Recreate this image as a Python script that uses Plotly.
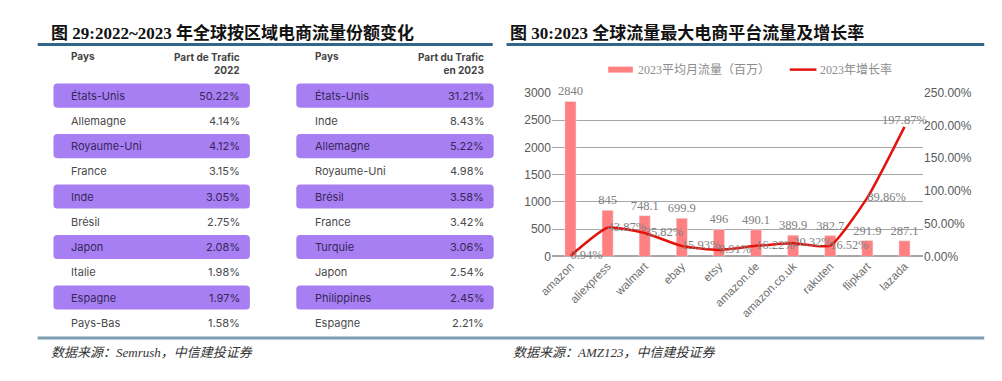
import plotly.graph_objects as go

# ---------------- data ----------------
countries_2022 = ["États-Unis", "Allemagne", "Royaume-Uni", "France", "Inde",
                  "Brésil", "Japon", "Italie", "Espagne", "Pays-Bas"]
share_2022 = ["50.22%", "4.14%", "4.12%", "3.15%", "3.05%",
              "2.75%", "2.08%", "1.98%", "1.97%", "1.58%"]
countries_2023 = ["États-Unis", "Inde", "Allemagne", "Royaume-Uni", "Brésil",
                  "France", "Turquie", "Japon", "Philippines", "Espagne"]
share_2023 = ["31.21%", "8.43%", "5.22%", "4.98%", "3.58%",
              "3.42%", "3.06%", "2.54%", "2.45%", "2.21%"]

platforms = ["amazon", "aliexpress", "walmart", "ebay", "etsy", "amazon.de",
             "amazon.co.uk", "rakuten", "flipkart", "lazada"]
traffic = [2840, 845, 748.1, 699.9, 496, 490.1, 389.9, 382.7, 291.9, 287.1]
growth = [0.0094, 0.4387, 0.3582, 0.1593, 0.0991, 0.1622, 0.2032, 0.1652, 0.8986, 1.9787]

y_ticks = [0, 500, 1000, 1500, 2000, 2500, 3000]
y2_ticks = [0, 0.5, 1.0, 1.5, 2.0, 2.5]

W, H = 1002, 381
def px(x): return x / W
def py(y): return 1 - y / H

BAR_COLOR = "#ff8080"
LINE_COLOR = "#e3120b"
PURPLE = "#a87ff2"

fig = go.Figure()

fig.add_trace(go.Bar(
    x=platforms, y=traffic, name="2023平均月流量（百万）",
    marker_color=BAR_COLOR, width=0.3,
    text=[f"{v:g}" for v in traffic], textposition="outside", cliponaxis=False,
    constraintext="none",
    textfont=dict(family="Liberation Serif, Noto Sans CJK SC", size=12.5, color="#808080"),
    yaxis="y", showlegend=False,
))
pos = ["middle right"] * (len(growth) - 1) + ["top center"]
fig.add_trace(go.Scatter(
    x=platforms, y=growth, name="2023年增长率", yaxis="y2",
    mode="lines+text", line=dict(color=LINE_COLOR, width=2.5, shape="spline", smoothing=0.5),
    text=[f"{g*100:.2f}%" for g in growth], textposition=pos, cliponaxis=False,
    textfont=dict(family="Liberation Serif, Noto Sans CJK SC", size=12.5, color="#808080"),
    showlegend=False,
))

fig.update_layout(
    width=W, height=H, margin=dict(l=0, r=0, t=0, b=0),
    paper_bgcolor="white", plot_bgcolor="white",
    xaxis=dict(domain=[px(546), px(922)], tickangle=-45, showgrid=False, showline=False,
               ticks="", tickfont=dict(family="Liberation Sans", size=11.5, color="#6e6e6e")),
    yaxis=dict(domain=[py(259), py(89)], range=[0, 3000], tickvals=y_ticks,
               showgrid=True, gridcolor="#a6a6a6", gridwidth=1, zeroline=True,
               zerolinecolor="#a6a6a6", ticks="",
               tickfont=dict(family="Liberation Sans", size=12, color="#595959")),
    yaxis2=dict(overlaying="y", side="right", range=[0, 2.5], tickvals=y2_ticks,
                tickformat=".2%", showgrid=False, zeroline=False, ticks="",
                tickfont=dict(family="Liberation Sans", size=12, color="#595959")),
)

shapes = []
annotations = []

# titles
title_font = dict(family="Liberation Serif, Noto Sans CJK SC", size=17, color="#111111")
annotations.append(dict(x=px(36), y=py(27), xref="paper", yref="paper", xanchor="left",
                        yanchor="middle", showarrow=False,
                        text="<b>图 29:2022~2023 年全球按区域电商流量份额变化</b>", font=title_font))
annotations.append(dict(x=px(502), y=py(27), xref="paper", yref="paper", xanchor="left",
                        yanchor="middle", showarrow=False,
                        text="<b>图 30:2023 全球流量最大电商平台流量及增长率</b>", font=title_font))
for x0, x1 in [(25, 486), (500, 984)]:
    shapes.append(dict(type="line", xref="paper", yref="paper", x0=px(x0), x1=px(x1),
                       y0=py(39), y1=py(39), line=dict(color="#31658a", width=3)))
shapes.append(dict(type="line", xref="paper", yref="paper", x0=px(25), x1=px(984),
                   y0=py(343.5), y1=py(343.5), line=dict(color="#7d9db3", width=3)))

src_font = dict(family="Liberation Serif, Noto Sans CJK SC", size=13, color="#333333")
annotations.append(dict(x=px(36), y=py(359), xref="paper", yref="paper", xanchor="left",
                        yanchor="middle", showarrow=False,
                        text="<i>数据来源：Semrush，中信建投证券</i>", font=src_font))
annotations.append(dict(x=px(505), y=py(359), xref="paper", yref="paper", xanchor="left",
                        yanchor="middle", showarrow=False,
                        text="<i>数据来源：AMZ123，中信建投证券</i>", font=src_font))

# legend (manual)
leg_font = dict(family="Liberation Serif, Noto Sans CJK SC", size=12, color="#8c8c8c")
shapes.append(dict(type="line", xref="paper", yref="paper", x0=px(603), x1=px(628),
                   y0=py(65), y1=py(65), line=dict(color=BAR_COLOR, width=6)))
annotations.append(dict(x=px(631), y=py(65), xref="paper", yref="paper", xanchor="left",
                        yanchor="middle", showarrow=False, text="2023平均月流量（百万）", font=leg_font))
shapes.append(dict(type="line", xref="paper", yref="paper", x0=px(787), x1=px(814),
                   y0=py(65), y1=py(65), line=dict(color=LINE_COLOR, width=2.5)))
annotations.append(dict(x=px(816), y=py(65), xref="paper", yref="paper", xanchor="left",
                        yanchor="middle", showarrow=False, text="2023年增长率", font=leg_font))

# tables
def rounded_rect(x0, x1, y0, y1, r=4):
    X0, X1 = px(x0), px(x1)
    Yt, Yb = py(y0), py(y1)
    rx, ry = r / W, r / H
    return (f"M {X0+rx},{Yt} L {X1-rx},{Yt} Q {X1},{Yt} {X1},{Yt-ry} "
            f"L {X1},{Yb+ry} Q {X1},{Yb} {X1-rx},{Yb} L {X0+rx},{Yb} "
            f"Q {X0},{Yb} {X0},{Yb+ry} L {X0},{Yt-ry} Q {X0},{Yt} {X0+rx},{Yt} Z")

hdr_font = dict(family="Inter, Liberation Sans", size=10, color="#444444")
row_top, row_step = 92, 26.2
tables = [
    (countries_2022, share_2022, 41, 240, 57, 232, "Part de Trafic<br>2022"),
    (countries_2023, share_2023, 287, 487, 304, 479, "Part du Trafic<br>en 2023"),
]
for names, vals, bx0, bx1, tx, vx, hdr in tables:
    annotations.append(dict(x=px(tx), y=py(51), xref="paper", yref="paper", xanchor="left",
                            yanchor="middle", showarrow=False, text="<b>Pays</b>", font=hdr_font))
    annotations.append(dict(x=px(vx), y=py(44), xref="paper", yref="paper", xanchor="right",
                            yanchor="top", align="right", showarrow=False,
                            text=f"<b>{hdr}</b>", font=hdr_font))
    for i, (n, v) in enumerate(zip(names, vals)):
        yc = row_top + i * row_step
        banded = (i % 2 == 0)
        if banded:
            shapes.append(dict(type="path", xref="paper", yref="paper",
                               path=rounded_rect(bx0, bx1, yc - 12.5, yc + 12.5),
                               fillcolor=PURPLE, line=dict(width=0), layer="below"))
        col = "#35275a" if banded else "#4a4a4a"
        f = dict(family="Inter, Liberation Sans", size=11, color=col)
        annotations.append(dict(x=px(tx), y=py(yc), xref="paper", yref="paper", xanchor="left",
                                yanchor="middle", showarrow=False, text=n, font=f))
        annotations.append(dict(x=px(vx), y=py(yc), xref="paper", yref="paper", xanchor="right",
                                yanchor="middle", showarrow=False, text=v, font=f))

fig.update_layout(shapes=shapes, annotations=annotations)
fig.write_html("out.html")
